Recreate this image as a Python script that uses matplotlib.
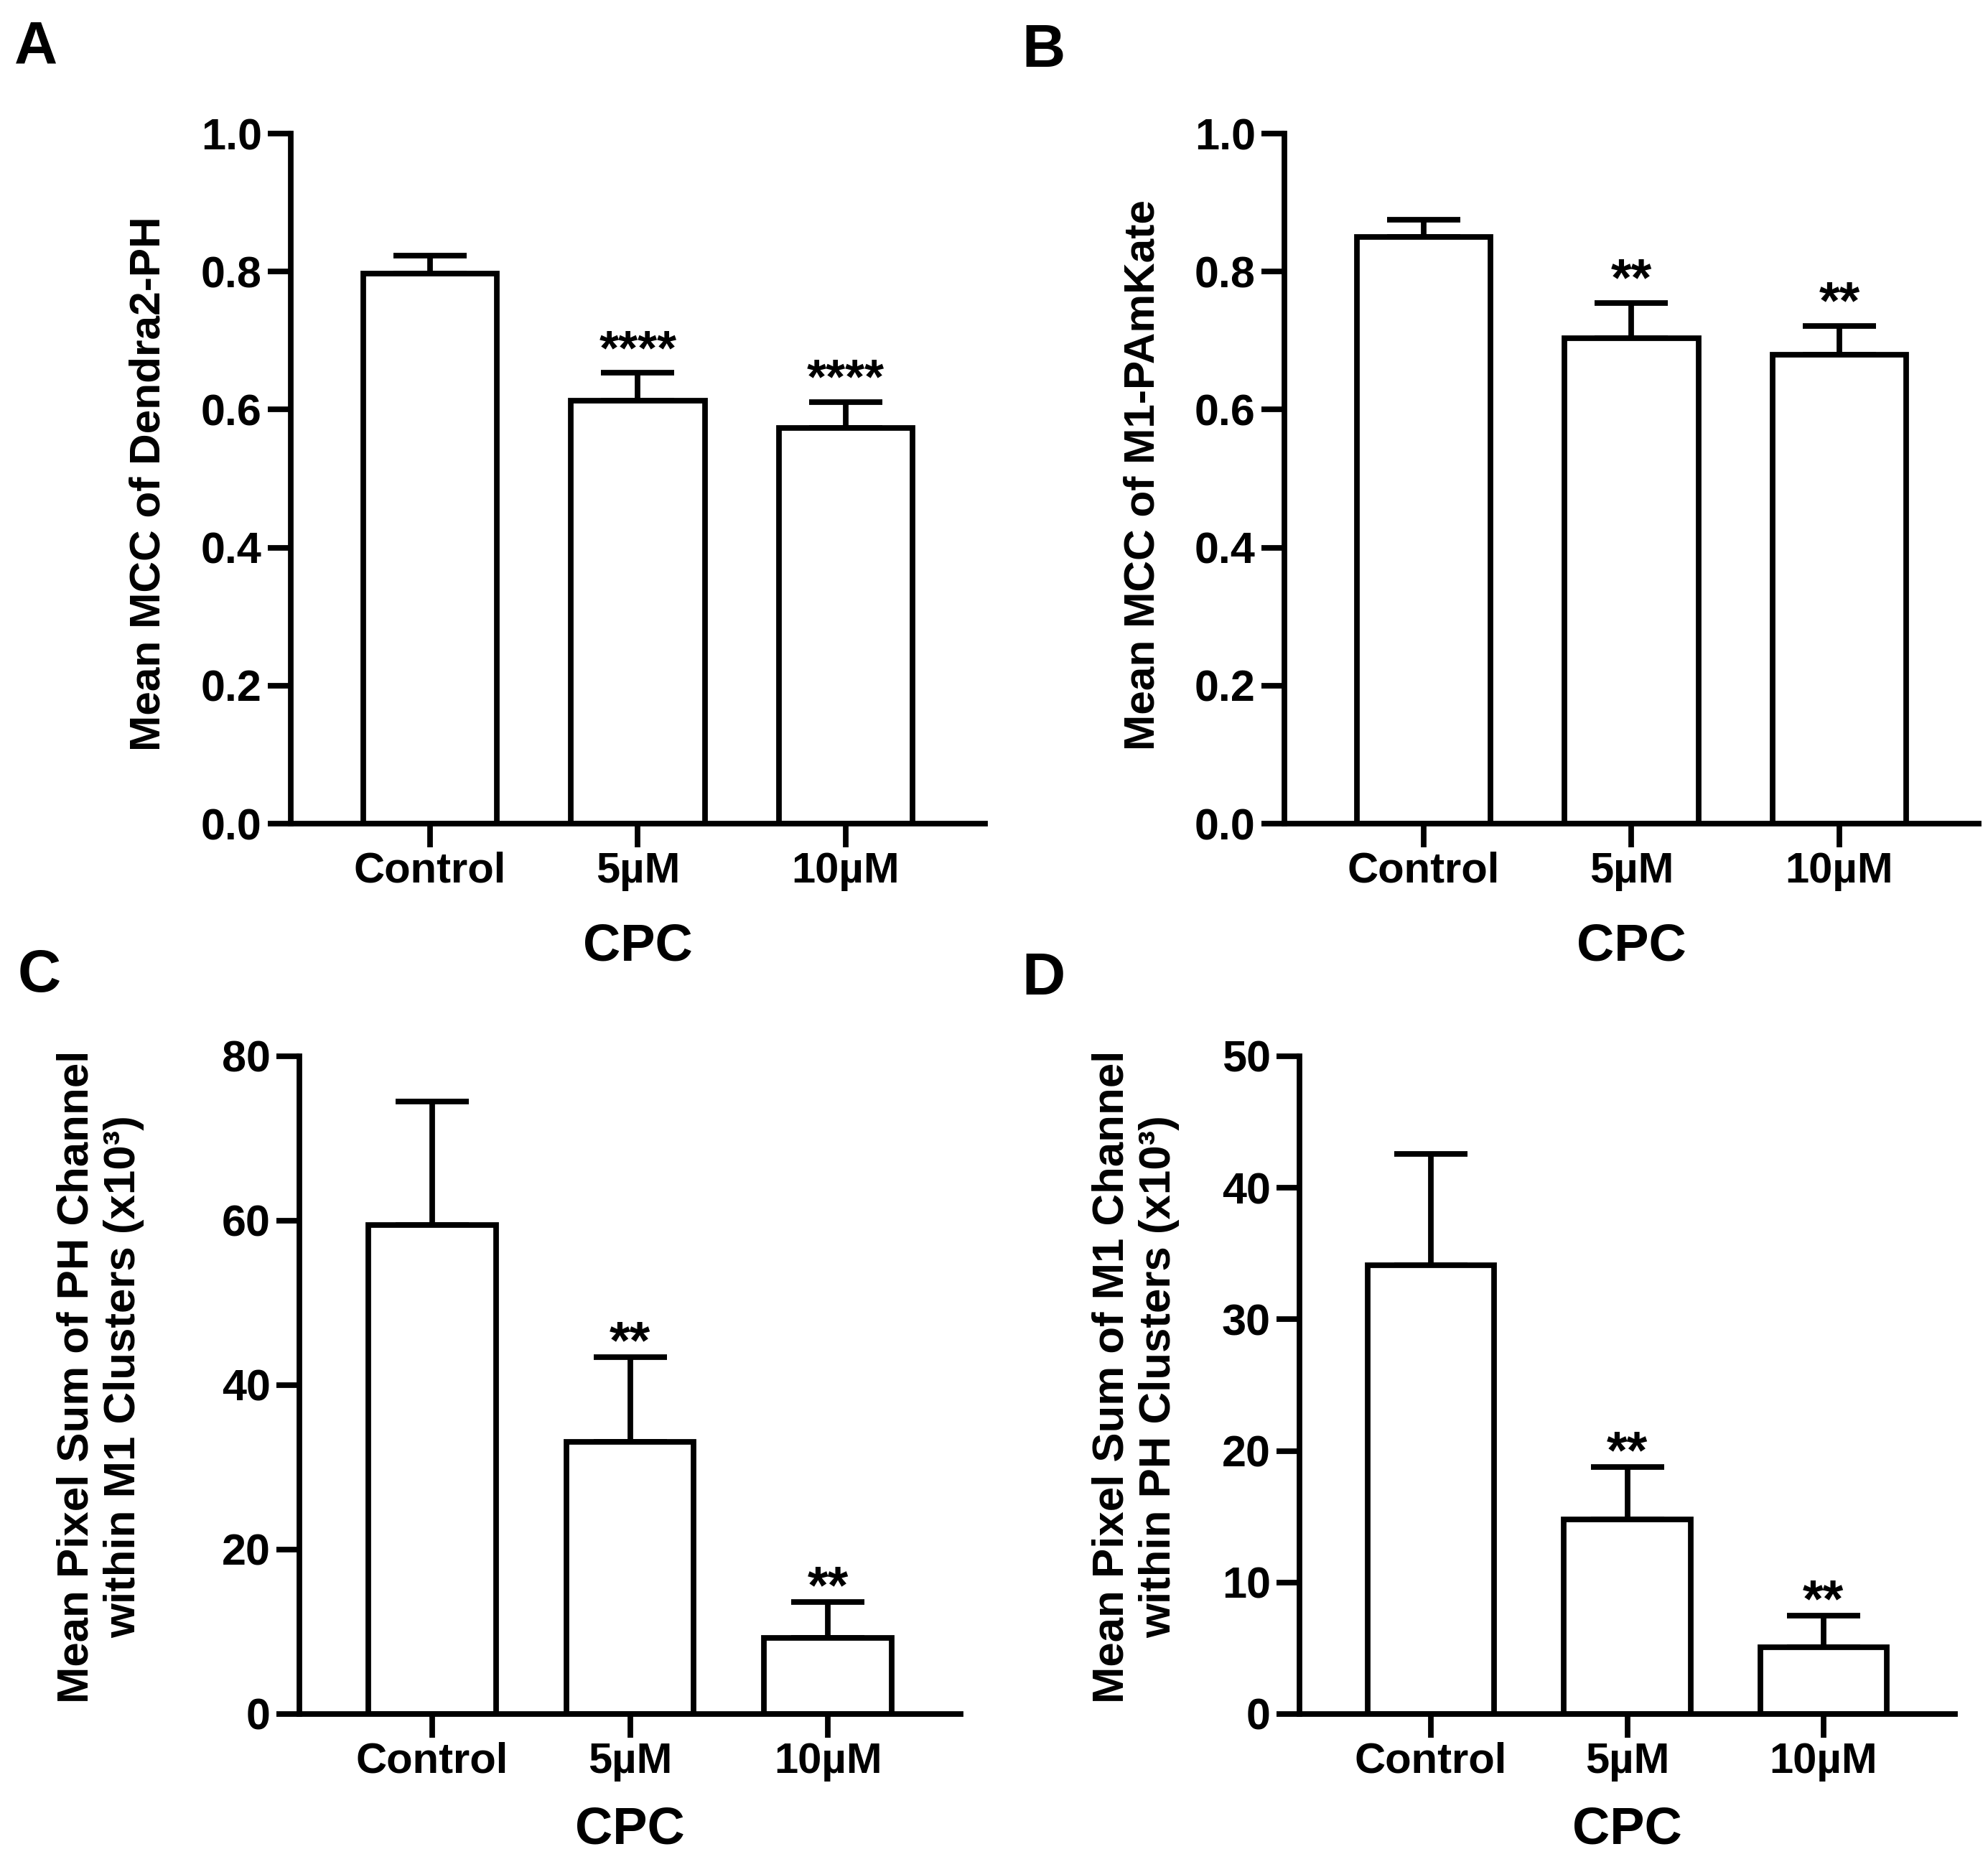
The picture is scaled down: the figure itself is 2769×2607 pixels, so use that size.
import numpy as np
import matplotlib
matplotlib.use("Agg")
import matplotlib.pyplot as plt

plt.rcParams['font.family'] = ['Liberation Sans', 'DejaVu Sans']
plt.rcParams['font.weight'] = 'bold'

# - DATA - #
groups = ["Control", "5µM", "10µM"]

mcc_pH = [0.797, 0.613, 0.573]
mcc_pH_err = [0.026, 0.040, 0.038]
mcc_pH_sig = ["", "****", "****"]

mcc_m1 = [0.850, 0.703, 0.680]
mcc_m1_err = [0.025, 0.051, 0.041]
mcc_m1_sig = ["", "**", "**"]

sum_pH = [59.5, 33.1, 9.3]
sum_pH_err = [15.0, 10.3, 4.3]
sum_pH_sig = ["", "**", "**"]

sum_m1 = [34.1, 14.8, 5.1]
sum_m1_err = [8.5, 4.0, 2.4]
sum_m1_sig = ["", "**", "**"]

LW = 5.6


def bar_panel(ax, vals, errs, sig, ymax, yticks, ticklabels, ylabel, ylabsize,
              ylab_xy, sig_size, sig_off):
    x = np.arange(len(groups))
    lower = np.zeros(len(vals))
    ax.bar(x, vals, width=0.645, color="white", edgecolor="black", linewidth=LW, zorder=2)
    ax.errorbar(x, vals, yerr=[lower, errs], fmt="none", ecolor="black",
                elinewidth=LW, capsize=37, capthick=LW, zorder=1)
    for i in range(len(vals)):
        if sig[i]:
            ax.annotate(sig[i], (x[i], vals[i] + errs[i]), xytext=(0, sig_off),
                        textcoords="offset points", ha="center", va="center",
                        fontsize=sig_size, fontweight="bold")
    ax.set_xlim(-0.67, 2.67)
    ax.set_ylim(0, ymax)
    ax.set_yticks(yticks)
    ax.set_yticklabels(ticklabels)
    ax.set_xticks(x)
    ax.set_xticklabels(groups)
    for s in ["top", "right"]:
        ax.spines[s].set_visible(False)
    for s in ["left", "bottom"]:
        ax.spines[s].set_linewidth(LW)
        ax.spines[s].set_capstyle("projecting")
    ax.tick_params(axis="y", length=23, width=LW, labelsize=44, pad=6)
    ax.tick_params(axis="x", length=24, width=LW, labelsize=43, pad=4)
    ax.set_xlabel("CPC", fontsize=52, fontweight="bold")
    ax.xaxis.set_label_coords(0.5, -0.178)
    ax.xaxis.label.set_verticalalignment("center")
    ax.set_ylabel(ylabel, fontsize=ylabsize, fontweight="bold", linespacing=1.18)
    ax.yaxis.set_label_coords(*ylab_xy)
    ax.yaxis.label.set_verticalalignment("center")


fig = plt.figure(figsize=(27.69, 26.07), dpi=100)

axA = fig.add_axes([0.14626, 0.56003, 0.34922, 0.36862])
axB = fig.add_axes([0.64608, 0.56003, 0.34922, 0.36862])
axC = fig.add_axes([0.15060, 0.08439, 0.33261, 0.35136])
axD = fig.add_axes([0.65367, 0.08439, 0.32972, 0.35136])

ytA = [0.0, 0.2, 0.4, 0.6, 0.8, 1.0]
bar_panel(axA, mcc_pH, mcc_pH_err, mcc_pH_sig, 1.0, ytA, ["%.1f" % t for t in ytA],
          "Mean MCC of Dendra2-PH", 43.5, (-0.205, 0.493), 50, 22)
bar_panel(axB, mcc_m1, mcc_m1_err, mcc_m1_sig, 1.0, ytA, ["%.1f" % t for t in ytA],
          "Mean MCC of M1-PAmKate", 43.5, (-0.204, 0.505), 53, 22)
ytC = [0, 20, 40, 60, 80]
bar_panel(axC, sum_pH, sum_pH_err, sum_pH_sig, 80, ytC, [str(t) for t in ytC],
          "Mean Pixel Sum of PH Channel\nwithin M1 Clusters (x10³)", 44.5,
          (-0.301, 0.513), 53, 13)
ytD = [0, 10, 20, 30, 40, 50]
bar_panel(axD, sum_m1, sum_m1_err, sum_m1_sig, 50, ytD, [str(t) for t in ytD],
          "Mean Pixel Sum of M1 Channel\nwithin PH Clusters (x10³)", 44.5,
          (-0.250, 0.513), 53, 13)
axC.xaxis.set_label_coords(0.5, -0.176)
axD.xaxis.set_label_coords(0.5, -0.176)

# panel letters
for lab, (px, py) in zip("ABCD", [(20, 28), (1423, 32), (25, 1320), (1423, 1324)]):
    fig.text(px / 2769, 1 - py / 2607, lab, fontsize=60, fontweight="bold",
             ha="left", va="top")

fig.savefig("out.png", dpi=100, facecolor="white")
